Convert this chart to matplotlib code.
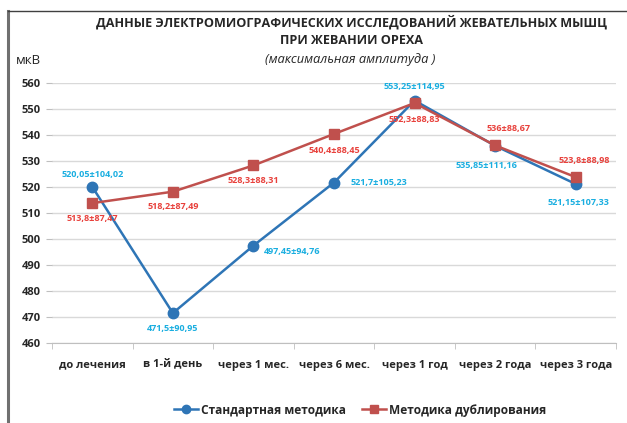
import matplotlib
matplotlib.use("Agg")
import matplotlib.pyplot as plt
from matplotlib.lines import Line2D

categories = ["до лечения", "в 1-й день", "через 1 мес.", "через 6 мес.",
              "через 1 год", "через 2 года", "через 3 года"]
std_vals = [520.05, 471.5, 497.45, 521.7, 553.25, 535.85, 521.15]
std_labels = ["520,05±104,02", "471,5±90,95", "497,45±94,76", "521,7±105,23",
              "553,25±114,95", "535,85±111,16", "521,15±107,33"]
dup_vals = [513.8, 518.2, 528.3, 540.4, 552.3, 536.0, 523.8]
dup_labels = ["513,8±87,47", "518,2±87,49", "528,3±88,31", "540,4±88,45",
              "552,3±88,83", "536±88,67", "523,8±88,98"]
yticks = [460, 470, 480, 490, 500, 510, 520, 530, 540, 550, 560]

plt.rcParams['font.family'] = ['Open Sans', 'DejaVu Sans']

W, H = 627, 423
fig = plt.figure(figsize=(W / 100, H / 100), dpi=100)
ax = fig.add_axes([52 / W, (H - 343) / H, (616 - 52) / W, (343 - 83) / H])

x = list(range(len(categories)))
blue_line = "#2e75b6"
red_line = "#c0504d"
blue_txt = "#1aaee0"
red_txt = "#e8413c"

ax.plot(x, std_vals, color=blue_line, lw=1.8, marker="o", ms=7.5, zorder=3)
ax.plot(x, dup_vals, color=red_line, lw=1.8, marker="s", ms=7.5, zorder=4)

ax.set_xlim(-0.5, len(categories) - 0.5)
ax.set_ylim(460, 560)
ax.set_yticks(yticks)
ax.yaxis.grid(True, color="#d9d9d9", lw=1)
ax.set_axisbelow(True)
for s in ["top", "right", "left"]:
    ax.spines[s].set_visible(False)
ax.spines["bottom"].set_color("#bfbfbf")
ax.set_xticks(x)
ax.set_xticklabels(categories, fontsize=8, fontweight="bold", color="#262626")
ax.set_xticks([i + 0.5 for i in range(-1, len(categories))], minor=True)
ax.tick_params(axis="x", which="major", length=0, pad=12)
ax.tick_params(axis="x", which="minor", length=4, color="#bfbfbf")
ax.tick_params(axis="y", length=4, color="#bfbfbf", labelsize=8, pad=4)
for lab in ax.get_yticklabels():
    lab.set_fontweight("bold")
    lab.set_color("#262626")

# data label offsets (points)
std_off = [(0, 9), (0, -11), (28, -4), (32, 0), (0, 10), (-6, -14), (2, -13)]
dup_off = [(0, -11), (0, -11), (0, -11), (0, -12), (0, -12), (10, 12), (6, 12)]
for i in x:
    ax.annotate(std_labels[i], (i, std_vals[i]), xytext=std_off[i], textcoords="offset points",
                ha="center", va="center", fontsize=6.5, fontweight="bold", color=blue_txt, zorder=5)
    ax.annotate(dup_labels[i], (i, dup_vals[i]), xytext=dup_off[i], textcoords="offset points",
                ha="center", va="center", fontsize=6.5, fontweight="bold", color=red_txt, zorder=5)

fig.text(352 / W, 1 - 22 / H, "ДАННЫЕ ЭЛЕКТРОМИОГРАФИЧЕСКИХ ИССЛЕДОВАНИЙ ЖЕВАТЕЛЬНЫХ МЫШЦ",
         ha="center", va="center", fontsize=9.1, fontweight="bold", color="#262626")
fig.text(352 / W, 1 - 40 / H, "ПРИ ЖЕВАНИИ ОРЕХА",
         ha="center", va="center", fontsize=9.1, fontweight="bold", color="#262626")
fig.text(350 / W, 1 - 60 / H, "(максимальная амплитуда )",
         ha="center", va="center", fontsize=9.3, style="italic", color="#262626")
fig.text(16 / W, 1 - 61 / H, "мкВ", ha="left", va="center", fontsize=9.5, color="#262626")

handles = [Line2D([], [], color=blue_line, lw=1.8, marker="o", ms=6),
           Line2D([], [], color=red_line, lw=1.8, marker="s", ms=6)]
fig.legend(handles, ["Стандартная методика", "Методика дублирования"],
           loc="center", bbox_to_anchor=(360 / W, 1 - 410 / H), ncol=2, frameon=False,
           prop={"size": 8.6, "weight": "bold"}, handlelength=2.0, handletextpad=0.2,
           columnspacing=1.4, labelcolor="#262626")

# border lines
fig.add_artist(Line2D([7.5 / W, 7.5 / W], [0, 1 - 11 / H], transform=fig.transFigure,
                      color="#707070", lw=2.2))
fig.add_artist(Line2D([7.5 / W, 1], [1 - 11 / H, 1 - 11 / H], transform=fig.transFigure,
                      color="#404040", lw=1))

fig.savefig("out.png", dpi=100)
